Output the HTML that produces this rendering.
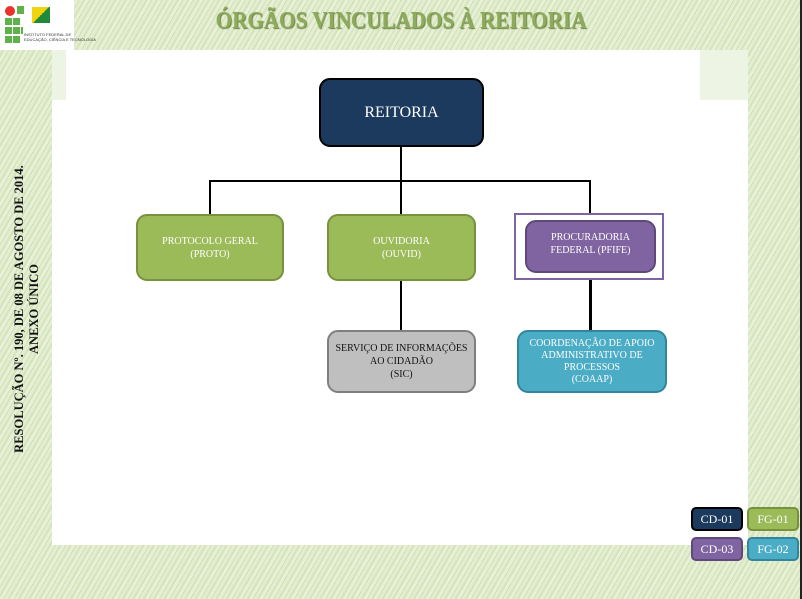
<!DOCTYPE html>
<html><head><meta charset="utf-8"><style>
body{margin:0;width:802px;height:599px;overflow:hidden;position:relative;background:#dce9c6;font-family:"Liberation Serif",serif}
.bg{position:absolute;inset:0;background:repeating-linear-gradient(120deg,#d3e4b8 0 2px,#e8f0da 2px 5px,#cfe0b0 5px 6px,#e3edd2 6px 9px)}
.panel{position:absolute;left:52px;top:50px;width:696px;height:495px;background:#fff}
.pale{position:absolute;background:#eef4e4}
.b{position:absolute;box-sizing:border-box;border-radius:11px;color:#fff;text-align:center;font-size:10px;line-height:13px;display:flex;flex-direction:column;justify-content:center;align-items:center}
.l{position:absolute;background:#000}
.lg{position:absolute;box-sizing:border-box;border-radius:5px;color:#fff;font-size:12px;display:flex;align-items:center;justify-content:center;width:52px;height:24px}
</style></head><body>
<div class="bg"></div>
<div class="panel"></div>
<div class="pale" style="left:52px;top:50px;width:14px;height:50px"></div>
<div class="pale" style="left:700px;top:50px;width:48px;height:50px"></div>
<div style="position:absolute;left:0;top:0;width:74px;height:50px;background:#fff"></div>
<div style="position:absolute;left:5px;top:6px;width:10px;height:10px;border-radius:50%;background:#e8322b"></div>
<div style="position:absolute;left:17px;top:6px;width:7px;height:8px;background:#5fb14a"></div>
<div style="position:absolute;left:5px;top:18px;width:7px;height:26px;background:repeating-linear-gradient(#5fb14a 0 7px,#fff 7px 9px)"></div>
<div style="position:absolute;left:13px;top:18px;width:7px;height:26px;background:repeating-linear-gradient(#5fb14a 0 7px,#fff 7px 9px)"></div>
<div style="position:absolute;left:21px;top:27px;width:2px;height:7px;background:#5fb14a"></div>
<div style="position:absolute;left:32px;top:7px;width:18px;height:16px;background:linear-gradient(135deg,#f1d410 50%,#1f8a3a 50%)"></div>
<div style="position:absolute;left:24px;top:32px;font:4px 'Liberation Sans',sans-serif;color:#333;line-height:5px">INSTITUTO FEDERAL DE<br>EDUCAÇÃO, CIÊNCIA E TECNOLOGIA</div>
<div style="position:absolute;left:0;width:802px;top:8px;text-align:center;font-size:24px;font-weight:bold;color:#8eab5c;text-shadow:1px 1px 1px #6b7f44;transform:scaleX(0.88)">ÓRGÃOS VINCULADOS À REITORIA</div>
<div style="position:absolute;left:-128px;top:294px;width:310px;transform:rotate(-90deg);text-align:center;font-size:12.5px;font-weight:bold;line-height:15px;color:#111">RESOLUÇÃO Nº. 190, DE 08 DE AGOSTO DE 2014.<br>ANEXO ÚNICO</div>
<div style="position:absolute;left:800px;top:0;width:2px;height:599px;background:#222"></div>

<div class="l" style="left:400px;top:147px;width:2px;height:34px"></div>
<div class="l" style="left:209px;top:180px;width:382px;height:2px"></div>
<div class="l" style="left:209px;top:180px;width:2px;height:34px"></div>
<div class="l" style="left:400px;top:180px;width:2px;height:34px"></div>
<div class="l" style="left:589px;top:180px;width:2px;height:33px"></div>
<div class="l" style="left:400px;top:281px;width:2px;height:49px"></div>
<div class="l" style="left:589px;top:280px;width:3px;height:50px"></div>

<div class="b" style="left:319px;top:78px;width:165px;height:69px;background:#1b3a5e;border:2px solid #000;font-size:16px">REITORIA</div>
<div class="b" style="left:136px;top:214px;width:148px;height:67px;background:#9bbb59;border:2px solid #76923c"><div>PROTOCOLO GERAL</div><div>(PROTO)</div></div>
<div class="b" style="left:327px;top:214px;width:149px;height:67px;background:#9bbb59;border:2px solid #76923c"><div>OUVIDORIA</div><div>(OUVID)</div></div>
<div style="position:absolute;left:514px;top:213px;width:150px;height:67px;box-sizing:border-box;border:2px solid #8064a2;background:#fff"></div>
<div class="b" style="left:525px;top:220px;width:131px;height:53px;background:#8064a2;border:2px solid #5f497a;justify-content:flex-start;padding-top:9px"><div>PROCURADORIA</div><div>FEDERAL (PFIFE)</div></div>
<div class="b" style="left:327px;top:330px;width:149px;height:63px;background:#bfbfbf;border:2px solid #7f7f7f;color:#111"><div>SERVIÇO DE INFORMAÇÕES</div><div>AO CIDADÃO</div><div>(SIC)</div></div>
<div class="b" style="left:517px;top:330px;width:150px;height:63px;background:#4bacc6;border:2px solid #31859c;line-height:12px"><div>COORDENAÇÃO DE APOIO</div><div>ADMINISTRATIVO DE</div><div>PROCESSOS</div><div>(COAAP)</div></div>

<div class="lg" style="left:691px;top:507px;background:#1b3a5e;border:2px solid #000">CD-01</div>
<div class="lg" style="left:747px;top:507px;background:#9bbb59;border:2px solid #76923c">FG-01</div>
<div class="lg" style="left:691px;top:537px;background:#8064a2;border:2px solid #5f497a">CD-03</div>
<div class="lg" style="left:747px;top:537px;background:#4bacc6;border:2px solid #31859c">FG-02</div>
</body></html>
